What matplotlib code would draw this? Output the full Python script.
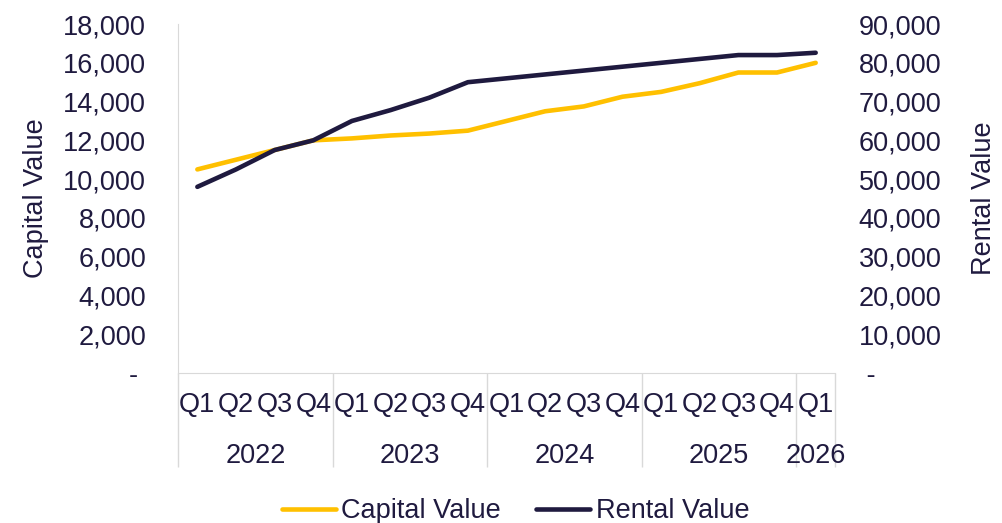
import numpy as np
import matplotlib.pyplot as plt
from matplotlib.ticker import FuncFormatter

plt.rcParams['font.family'] = ['Liberation Sans', 'DejaVu Sans']

years = ["2022", "2023", "2024", "2025", "2026"]
quarters = ["Q1", "Q2", "Q3", "Q4"] * 4 + ["Q1"]
capital = [10500, 11000, 11500, 12000, 12100, 12250, 12350, 12500,
           13000, 13500, 13750, 14250, 14500, 14950, 15500, 15500, 16000]
rental = [48000, 52500, 57500, 60000, 65000, 67800, 71000, 75000,
          76000, 77000, 78000, 79000, 80000, 81000, 82000, 82000, 82600]

YELLOW = "#FFC000"
NAVY = "#1F1A3F"
GRID = "#D9D9D9"
FS = 19.5

fig = plt.figure(figsize=(10.03, 5.23), dpi=100)
ax = fig.add_axes([0.1775, 0.287, 0.655, 0.667])
ax2 = ax.twinx()

x = np.arange(len(quarters))
l1, = ax.plot(x, capital, color=YELLOW, lw=3.3, solid_capstyle='round', label="Capital Value")
l2, = ax2.plot(x, rental, color=NAVY, lw=3.3, solid_capstyle='round', label="Rental Value")

ax.set_xlim(-0.5, len(quarters) - 0.5)
ax.set_ylim(0, 18000)
ax2.set_ylim(0, 90000)
ax.set_yticks(np.arange(0, 18001, 2000))
ax2.set_yticks(np.arange(0, 90001, 10000))
ax.yaxis.set_major_formatter(FuncFormatter(lambda v, p: "- " if v == 0 else f"{v:,.0f}"))
ax2.yaxis.set_major_formatter(FuncFormatter(lambda v, p: " -" if v == 0 else f"{v:,.0f}"))

for a in (ax, ax2):
    for s in a.spines.values():
        s.set_visible(False)
    a.tick_params(axis='y', length=0, labelsize=FS, labelcolor=NAVY)
ax.tick_params(axis='y', pad=23)
ax2.tick_params(axis='y', pad=17)
ax.spines['left'].set_visible(True)
ax.spines['left'].set_color(GRID)
ax.spines['bottom'].set_visible(True)
ax.spines['bottom'].set_color(GRID)

ax.set_ylabel("Capital Value", fontsize=FS, color=NAVY, labelpad=10)
ax2.set_ylabel("Rental Value", fontsize=FS, color=NAVY, labelpad=21)

# quarter labels and year group dividers
ax.set_xticks(x)
ax.set_xticklabels(quarters)
ax.tick_params(axis='x', length=0, labelsize=FS, labelcolor=NAVY, pad=14)
bounds = [-0.5, 3.5, 7.5, 11.5, 15.5, 16.5]
ax.set_xticks(bounds, minor=True)
ax.tick_params(axis='x', which='minor', length=68, color=GRID, width=1)

year_pos = [1.5, 5.5, 9.5, 13.5, 16.0]
for yp, yr in zip(year_pos, years):
    ax.annotate(yr, xy=(yp, 0), xycoords=('data', 'axes fraction'),
                xytext=(0, -60), textcoords='offset points',
                ha='center', va='center', fontsize=FS, color=NAVY)

fig.legend(handles=[l1, l2], loc='center', bbox_to_anchor=(0.514, 0.022),
           ncol=2, frameon=False, fontsize=FS, handlelength=2.0,
           handletextpad=0.2, columnspacing=1.3, labelcolor=NAVY)

fig.savefig("out.png", dpi=100)
